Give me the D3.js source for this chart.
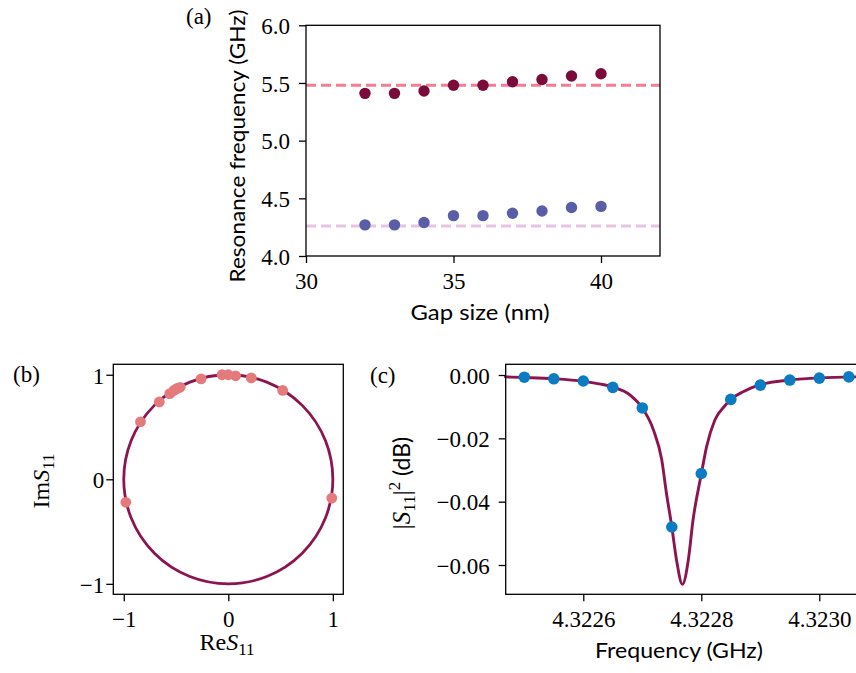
<!DOCTYPE html>
<html>
<head>
<meta charset="utf-8">
<script src="https://cdn.jsdelivr.net/npm/d3@7"></script>
<style>
  html, body { margin: 0; padding: 0; background: #fff; }
  svg { display: block; }
</style>
</head>
<body>
<svg id="chart" width="856" height="673"></svg>
<script>
// ---------------- DATA ----------------
// Panel (a): resonance frequency vs gap size
const gapSizes = [32, 33, 34, 35, 36, 37, 38, 39, 40];
const upperFreq = [5.41, 5.41, 5.43, 5.48, 5.48, 5.51, 5.53, 5.56, 5.58];
const lowerFreq = [4.27, 4.27, 4.29, 4.35, 4.35, 4.37, 4.39, 4.42, 4.43];
const upperRef = 5.48;
const lowerRef = 4.26;
const aXTicks = [30, 35, 40];
const aYTicks = [4.0, 4.5, 5.0, 5.5, 6.0];

// Panel (b): S11 in complex plane
const s11Re = [-0.98, 0.99, 0.52, 0.22, 0.07, 0.00, -0.06, -0.26, -0.46, -0.49, -0.52, -0.56, -0.66, -0.84];
const s11Im = [-0.22, -0.18, 0.85, 0.97, 0.99, 1.00, 1.00, 0.96, 0.88, 0.87, 0.85, 0.82, 0.74, 0.55];
const circleCenter = [0, 0];
const circleRadius = 1;
const bTicks = [-1, 0, 1];

// Panel (c): |S11|^2 vs frequency
const measFreq = [4.32250, 4.32255, 4.32260, 4.32265, 4.32270, 4.32275, 4.32280, 4.32285, 4.32290, 4.32295, 4.32300, 4.32305];
const measDb = [-0.0007, -0.0012, -0.0019, -0.0039, -0.0104, -0.0480, -0.0311, -0.0077, -0.0032, -0.0016, -0.0010, -0.0006];
const fitFreq = [4.322468, 4.32250, 4.32255, 4.32260, 4.32263, 4.32265, 4.32268, 4.32270, 4.322719, 4.322733, 4.322741, 4.32275, 4.322758, 4.322768, 4.322778, 4.322786, 4.32280, 4.322809, 4.322823, 4.32284, 4.32285, 4.322871, 4.322897, 4.32295, 4.32300, 4.323064];
const fitDb = [-0.0006, -0.0008, -0.0012, -0.0020, -0.0029, -0.0038, -0.0064, -0.0104, -0.0174, -0.0268, -0.0374, -0.0479, -0.0584, -0.0661, -0.0584, -0.0458, -0.0313, -0.0226, -0.0142, -0.0097, -0.0077, -0.0053, -0.0032, -0.0016, -0.0009, -0.0006];
const cXTicks = [4.3226, 4.3228, 4.3230];
const cYTicks = [0.00, -0.02, -0.04, -0.06];

// ---------------- STYLE ----------------
const SERIF = "'Liberation Serif', serif";
const SANS = "Lato, 'Liberation Sans', sans-serif";
const FS = 23;
const C = {
  upperDot: "#7b0b3b", lowerDot: "#5a5ea7",
  upperDash: "#f47c94", lowerDash: "#e7c4e0",
  fitLine: "#8c1450", bDot: "#e47a7b", cDot: "#0b7bc2"
};

const svg = d3.select("#chart");
const minus = s => s.replace("-", "\u2212");

function styleAxis(g, textFn) {
  g.attr("font-family", SERIF).attr("font-size", FS);
  g.select(".domain").remove();
  g.selectAll(".tick line").attr("stroke", "#000").attr("stroke-width", 1.3);
  g.selectAll(".tick text").attr("fill", "#000")
    .style("font-family", SERIF).style("font-size", FS + "px");
  if (textFn) textFn(g.selectAll(".tick text"));
}
function frame(x, y) {
  const [x0, x1] = x.range(), [y0, y1] = y.range();
  svg.append("rect")
    .attr("x", Math.min(x0, x1)).attr("y", Math.min(y0, y1))
    .attr("width", Math.abs(x1 - x0)).attr("height", Math.abs(y1 - y0))
    .attr("fill", "none").attr("stroke", "#000").attr("stroke-width", 1.3);
}
function sansLabel(txt, x, y, len, rotate) {
  const t = svg.append("text")
    .attr("transform", `translate(${x},${y})` + (rotate ? " rotate(-90)" : ""))
    .attr("text-anchor", "middle")
    .style("font-family", SANS).style("font-size", "22px").attr("fill", "#000")
    .text(txt);
  if (len) t.attr("textLength", len).attr("lengthAdjust", "spacingAndGlyphs");
  return t;
}
function serifLabel(txt, x, y) {
  svg.append("text").attr("x", x).attr("y", y)
    .style("font-family", SERIF).style("font-size", FS + "px").attr("fill", "#000")
    .text(txt);
}

// ---------------- PANEL (a) ----------------
{
  const x = d3.scaleLinear().domain([30, 42]).range([306, 660]);
  const y = d3.scaleLinear().domain([4, 6]).range([256, 25.3]);
  const gx = svg.append("g").attr("transform", `translate(0,${y.range()[0]})`)
    .call(d3.axisBottom(x).tickValues(aXTicks).tickSize(7).tickFormat(d3.format("d")));
  styleAxis(gx, t => t.attr("y", 33).attr("dy", 0));
  const gy = svg.append("g").attr("transform", `translate(${x.range()[0]},0)`)
    .call(d3.axisLeft(y).tickValues(aYTicks).tickSize(7).tickFormat(d3.format(".1f")));
  styleAxis(gy, t => t.attr("x", -16).attr("dy", "0.36em"));

  svg.append("clipPath").attr("id", "clipA").append("rect")
    .attr("x", 306).attr("y", 25.3).attr("width", 354).attr("height", 230.7);
  const pg = svg.append("g").attr("clip-path", "url(#clipA)");
  [[upperRef, C.upperDash], [lowerRef, C.lowerDash]].forEach(([v, col]) => {
    pg.append("line").attr("x1", x.range()[0]).attr("x2", x.range()[1])
      .attr("y1", y(v)).attr("y2", y(v))
      .attr("stroke", col).attr("stroke-width", 3).attr("stroke-dasharray", "10,5");
  });
  pg.selectAll("circle.up").data(gapSizes).enter().append("circle")
    .attr("cx", d => x(d)).attr("cy", (d, i) => y(upperFreq[i])).attr("r", 5.7).attr("fill", C.upperDot);
  pg.selectAll("circle.lo").data(gapSizes).enter().append("circle")
    .attr("cx", d => x(d)).attr("cy", (d, i) => y(lowerFreq[i])).attr("r", 5.7).attr("fill", C.lowerDot);
  frame(x, y);

  sansLabel("Resonance frequency (GHz)", 245, 146, 273, true);
  sansLabel("Gap size (nm)", 480, 320, 139, false);
  serifLabel("(a)", 186, 24);
}

// ---------------- PANEL (b) ----------------
{
  const x = d3.scaleLinear().domain([-1.1, 1.1]).range([113.3, 343.3]);
  const y = d3.scaleLinear().domain([-1.1, 1.1]).range([594.3, 364.3]);
  const gx = svg.append("g").attr("transform", `translate(0,${y.range()[0]})`)
    .call(d3.axisBottom(x).tickValues(bTicks).tickSize(7).tickFormat(d => minus(d3.format("d")(d))));
  styleAxis(gx, t => t.attr("y", 33).attr("dy", 0));
  const gy = svg.append("g").attr("transform", `translate(${x.range()[0]},0)`)
    .call(d3.axisLeft(y).tickValues(bTicks).tickSize(7).tickFormat(d => minus(d3.format("d")(d))));
  styleAxis(gy, t => t.attr("x", -9).attr("dy", "0.36em"));

  svg.append("circle")
    .attr("cx", x(circleCenter[0])).attr("cy", y(circleCenter[1]))
    .attr("r", x(circleRadius) - x(0))
    .attr("fill", "none").attr("stroke", C.fitLine).attr("stroke-width", 2.8);
  svg.selectAll("circle.bd").data(s11Re).enter().append("circle")
    .attr("cx", d => x(d)).attr("cy", (d, i) => y(s11Im[i])).attr("r", 5.4).attr("fill", C.bDot);
  frame(x, y);

  const xl = svg.append("text").attr("x", 227).attr("y", 650).attr("text-anchor", "middle")
    .style("font-family", SERIF).style("font-size", "24px").attr("fill", "#000");
  xl.append("tspan").text("Re");
  xl.append("tspan").style("font-style", "italic").text("S");
  xl.append("tspan").attr("dy", 5).style("font-size", "17px").text("11");
  const yl = svg.append("text").attr("transform", "translate(49,481) rotate(-90)").attr("text-anchor", "middle")
    .style("font-family", SERIF).style("font-size", "24px").attr("fill", "#000");
  yl.append("tspan").text("Im");
  yl.append("tspan").style("font-style", "italic").text("S");
  yl.append("tspan").attr("dy", 5).style("font-size", "17px").text("11");

  serifLabel("(b)", 13, 382);
}

// ---------------- PANEL (c) ----------------
{
  const x = d3.scaleLinear().domain([4.3224685, 4.3230639]).range([505.7, 857]);
  const y = d3.scaleLinear().domain([-0.06925, 0.00338]).range([594.3, 364.3]);
  const gx = svg.append("g").attr("transform", `translate(0,${y.range()[0]})`)
    .call(d3.axisBottom(x).tickValues(cXTicks).tickSize(7).tickFormat(d3.format(".4f")));
  styleAxis(gx, t => t.attr("y", 33).attr("dy", 0));
  const gy = svg.append("g").attr("transform", `translate(${x.range()[0]},0)`)
    .call(d3.axisLeft(y).tickValues(cYTicks).tickSize(7).tickFormat(d => minus(d3.format(".2f")(Math.abs(d) < 1e-9 ? 0 : d))));
  styleAxis(gy, t => t.attr("x", -16).attr("dy", "0.36em"));

  const line = d3.line().x(d => x(d[0])).y(d => y(d[1])).curve(d3.curveMonotoneX);
  svg.append("path").datum(fitFreq.map((f, i) => [f, fitDb[i]]))
    .attr("d", line).attr("fill", "none").attr("stroke", C.fitLine)
    .attr("stroke-width", 2.9).attr("stroke-linejoin", "round").attr("stroke-linecap", "round");
  svg.selectAll("circle.cd").data(measFreq).enter().append("circle")
    .attr("cx", d => x(d)).attr("cy", (d, i) => y(measDb[i])).attr("r", 5.8).attr("fill", C.cDot);
  frame(x, y);

  sansLabel("Frequency (GHz)", 679, 658, 168, false);

  const yl = svg.append("text").attr("transform", "translate(410,483) rotate(-90)").attr("text-anchor", "middle")
    .style("font-family", SERIF).style("font-size", "25px").attr("fill", "#000");
  yl.append("tspan").text("|");
  yl.append("tspan").style("font-style", "italic").text("S");
  yl.append("tspan").attr("dy", 5).style("font-size", "17px").text("11");
  yl.append("tspan").attr("dy", -5).text("|");
  yl.append("tspan").attr("dy", -10).style("font-size", "17px").text("2");
  yl.append("tspan").attr("dy", 10).style("font-family", SANS).style("font-size", "23px").text("\u00a0(dB)");

  serifLabel("(c)", 370, 383);
}
</script>
</body>
</html>
